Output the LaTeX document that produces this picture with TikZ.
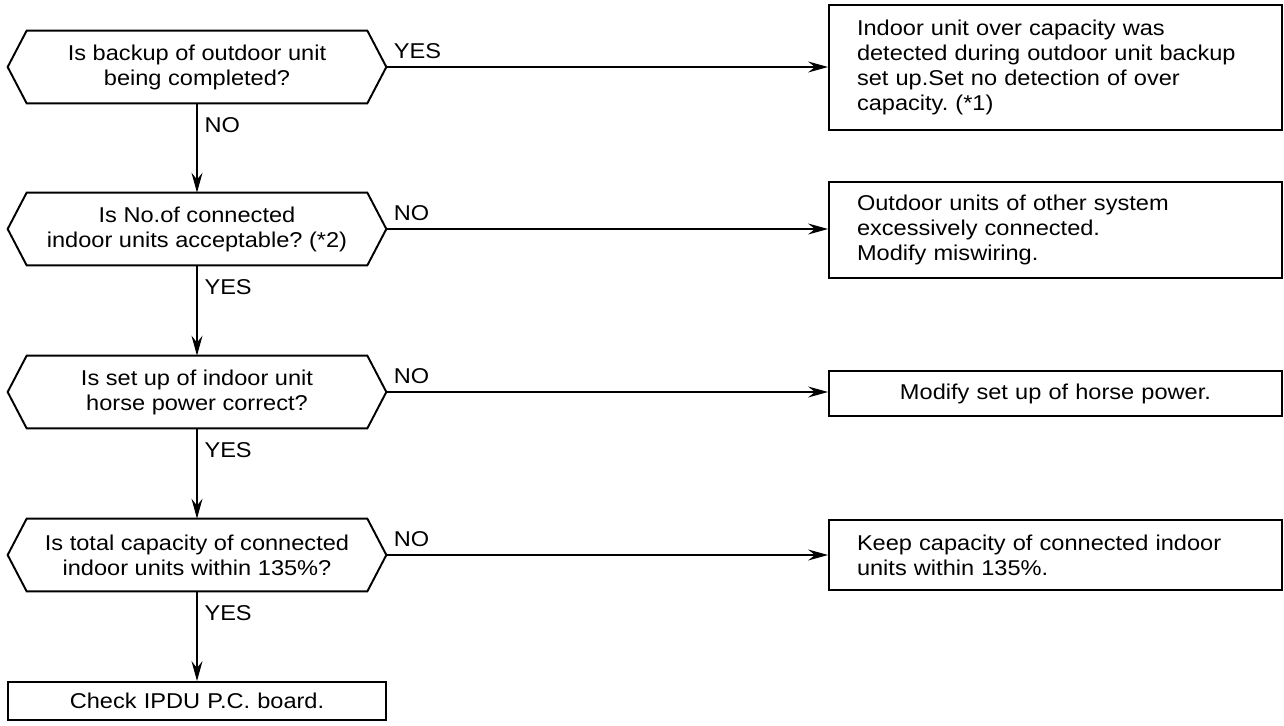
\documentclass[tikz,border=0pt]{standalone}
\usepackage{fontspec}
\setmainfont[FakeStretch=1.1]{Liberation Sans}
\usetikzlibrary{arrows.meta}

\begin{document}
\frenchspacing
\begin{tikzpicture}[
      font=\fontsize{12.2}{14.2}\selectfont,
      ask/.style={rectangle, minimum width=7.56cm, minimum height=1.44cm, inner sep=0, align=center},
      act/.style={draw, line width=1.1pt, minimum width=9.06cm, text width=7.94cm, align=left, inner sep=0},
      flow/.style={-{Stealth[length=4mm, width=2.2mm, inset=1.4mm]}, line width=0.6pt},
      hlab/.style={anchor=south west, inner sep=0, xshift=0.14cm, yshift=0.16cm},
      vlab/.style={anchor=north west, inner sep=0, xshift=0.14cm, yshift=-0.28cm},
    ]
    \useasboundingbox (0,0) rectangle (25.68,-14.52);
    % questions
    \node[ask] (q1) at (3.94,-1.34) {Is backup of outdoor unit\\being completed?};
    \node[ask] (q2) at (3.94,-4.58) {Is No.of connected\\indoor units acceptable? (*2)};
    \node[ask] (q3) at (3.94,-7.84) {Is set up of indoor unit\\horse power correct?};
    \node[ask] (q4) at (3.94,-11.10) {Is total capacity of connected\\indoor units within 135\%?};
    \node[act, text width=7.56cm, minimum width=7.56cm, minimum height=0.76cm, align=center] (chk) at (3.94,-14.02) {Check IPDU P.C. board.};
    % remedies
    \node[act, minimum height=2.5cm] (r1) at (21.11,-1.35) {Indoor unit over capacity was\\detected during outdoor unit backup\\set up.Set no detection of over\\capacity. (*1)};
    \node[act, minimum height=1.92cm] (r2) at (21.11,-4.60) {Outdoor units of other system\\excessively connected.\\Modify miswiring.};
    \node[act, minimum height=0.9cm, align=center] (r3) at (21.11,-7.87) {Modify set up of horse power.};
    \node[act, minimum height=1.4cm] (r4) at (21.11,-11.10) {Keep capacity of connected indoor\\units within 135\%.};
    \foreach \q in {q1,q2,q3,q4}
      \draw[line width=1.1pt] ([xshift=0.38cm]\q.north west) -- ([xshift=-0.38cm]\q.north east) -- (\q.east)
        -- ([xshift=-0.38cm]\q.south east) -- ([xshift=0.38cm]\q.south west) -- (\q.west) -- cycle;
    \draw[flow] (q1) -- node[vlab, at start] {NO} (q2);
    \draw[flow] (q2) -- node[vlab, at start] {YES} (q3);
    \draw[flow] (q3) -- node[vlab, at start] {YES} (q4);
    \draw[flow] (q4) -- node[vlab, at start] {YES} (chk);
    \draw[flow] (q1.east) -- node[hlab, at start] {YES} (q1.east -| r1.west);
    \draw[flow] (q2.east) -- node[hlab, at start] {NO} (q2.east -| r2.west);
    \draw[flow] (q3.east) -- node[hlab, at start] {NO} (q3.east -| r3.west);
    \draw[flow] (q4.east) -- node[hlab, at start] {NO} (q4.east -| r4.west);
  \end{tikzpicture}
\end{document}
